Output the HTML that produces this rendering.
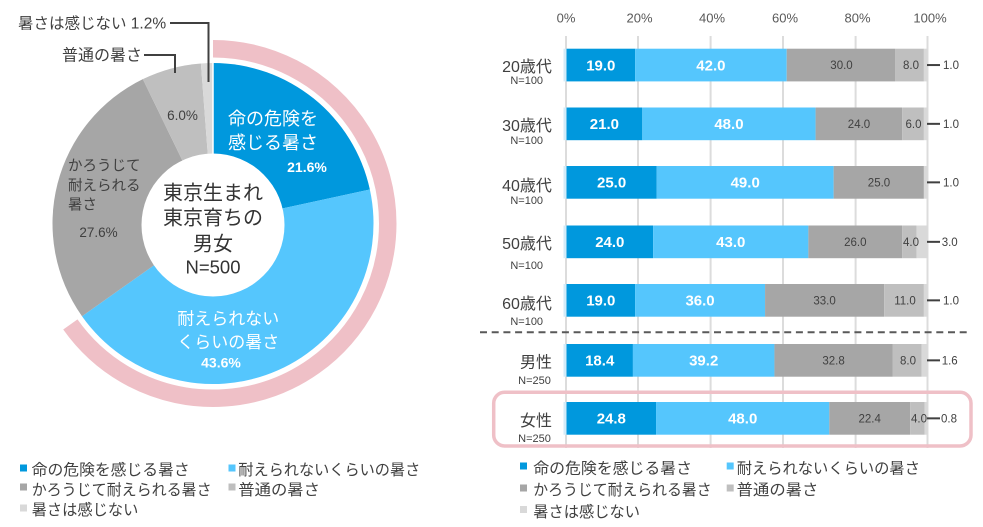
<!DOCTYPE html>
<html>
<head>
<meta charset="utf-8">
<style>
html,body{margin:0;padding:0;background:#fff;}
svg{display:block;}
text{font-family:"Liberation Sans","Noto Sans CJK JP",sans-serif;}
</style>
</head>
<body>
<svg width="983" height="527" viewBox="0 0 983 527" xmlns="http://www.w3.org/2000/svg">
<rect width="983" height="527" fill="#fff"/>

<!-- ===== DONUT ===== -->
<path d="M213,48.75 A174.75,174.75 0 1 1 70.36,324.46" fill="none" stroke="#efc0c7" stroke-width="17.5"/>
<path d="M213,223.5 L213,63 A160.5,160.5 0 0 1 369.85,189.47 Z" fill="#0098dd"/>
<path d="M213,223.5 L369.85,189.47 A160.5,160.5 0 0 1 82.0,316.23 Z" fill="#55c6fd"/>
<path d="M213,223.5 L82.0,316.23 A160.5,160.5 0 0 1 142.84,79.15 Z" fill="#a6a6a6"/>
<path d="M213,223.5 L142.84,79.15 A160.5,160.5 0 0 1 200.91,63.46 Z" fill="#bfbfbf"/>
<path d="M213,223.5 L200.91,63.46 A160.5,160.5 0 0 1 213,63 Z" fill="#d9d9d9"/>
<line x1="213" y1="62" x2="213" y2="160" stroke="#fff" stroke-width="1.5"/>
<circle cx="213" cy="225" r="71.5" fill="#fff"/>

<polyline points="170,23 208.5,23 208.5,82" fill="none" stroke="#404040" stroke-width="2"/>
<polyline points="144,55 175,55 175,73" fill="none" stroke="#404040" stroke-width="2"/>
<text x="18" y="28.5" font-size="15.5" fill="#404040">暑さは感じない 1.2%</text>
<text x="62" y="60.5" font-size="16" fill="#404040">普通の暑さ</text>

<text x="228" y="124.8" font-size="18" fill="#fff">命の危険を</text>
<text x="228" y="148.8" font-size="18" fill="#fff">感じる暑さ</text>
<text x="307" y="172" font-size="14" font-weight="bold" fill="#fff" text-anchor="middle">21.6%</text>
<text x="182.5" y="119.8" font-size="13.5" fill="#404040" text-anchor="middle">6.0%</text>
<text x="68" y="170.5" font-size="14.5" fill="#404040">かろうじて</text>
<text x="68" y="190.5" font-size="14.5" fill="#404040">耐えられる</text>
<text x="68" y="209.5" font-size="14.5" fill="#404040">暑さ</text>
<text x="98.5" y="236.8" font-size="13.5" fill="#404040" text-anchor="middle">27.6%</text>
<text x="213" y="199.3" font-size="20" fill="#333" text-anchor="middle">東京生まれ</text>
<text x="213" y="224.3" font-size="20" fill="#333" text-anchor="middle">東京育ちの</text>
<text x="213" y="250.6" font-size="20" fill="#333" text-anchor="middle">男女</text>
<text x="213" y="273.3" font-size="18.5" fill="#333" text-anchor="middle">N=500</text>
<text x="228.3" y="324.5" font-size="17" fill="#fff" text-anchor="middle">耐えられない</text>
<text x="228.3" y="348.2" font-size="17" fill="#fff" text-anchor="middle">くらいの暑さ</text>
<text x="221" y="367.7" font-size="14" font-weight="bold" fill="#fff" text-anchor="middle">43.6%</text>

<!-- left legend -->
<g font-size="15.3" fill="#404040">
<rect x="20" y="464.5" width="7" height="7" fill="#0098dd"/>
<text x="31.7" y="475" textLength="158" lengthAdjust="spacingAndGlyphs">命の危険を感じる暑さ</text>
<rect x="228.5" y="464.5" width="7" height="7" fill="#55c6fd"/>
<text x="238.3" y="475" textLength="182" lengthAdjust="spacingAndGlyphs">耐えられないくらいの暑さ</text>
<rect x="20" y="483.5" width="7" height="7" fill="#a6a6a6"/>
<text x="31.7" y="495" textLength="180" lengthAdjust="spacingAndGlyphs">かろうじて耐えられる暑さ</text>
<rect x="228.5" y="483.5" width="7" height="7" fill="#bfbfbf"/>
<text x="238.3" y="495" textLength="81.7" lengthAdjust="spacingAndGlyphs">普通の暑さ</text>
<rect x="20" y="504.5" width="7" height="7" fill="#d9d9d9"/>
<text x="31.7" y="515" textLength="106.7" lengthAdjust="spacingAndGlyphs">暑さは感じない</text>
</g>

<!-- ===== BAR CHART ===== -->
<g font-size="13" fill="#595959" text-anchor="middle">
<text x="566" y="22.7">0%</text>
<text x="639.5" y="22.7">20%</text>
<text x="712" y="22.7">40%</text>
<text x="785" y="22.7">60%</text>
<text x="857.5" y="22.7">80%</text>
<text x="930" y="22.7">100%</text>
</g>
<g stroke="#dcdcdc" stroke-width="2">
<line x1="566" y1="36" x2="566" y2="448"/>
<line x1="638" y1="36" x2="638" y2="448"/>
<line x1="710.6" y1="36" x2="710.6" y2="448"/>
<line x1="783" y1="36" x2="783" y2="448"/>
<line x1="855.6" y1="36" x2="855.6" y2="448"/>
<line x1="927.5" y1="36" x2="927.5" y2="448"/>
</g>

<line x1="480" y1="332.3" x2="969" y2="332.3" stroke="#595959" stroke-width="2" stroke-dasharray="7 4.7"/>
<rect x="493.7" y="392.3" width="477.3" height="53.7" rx="11" ry="11" fill="none" stroke="#efc0c7" stroke-width="3.5"/>

<g>
<rect x="563.5" y="48.7" width="3" height="32.7" fill="#d3ebf8"/>
<rect x="566.5" y="48.7" width="68.59" height="32.7" fill="#0098dd"/>
<rect x="635.09" y="48.7" width="151.62" height="32.7" fill="#55c6fd"/>
<rect x="786.71" y="48.7" width="108.3" height="32.7" fill="#a6a6a6"/>
<rect x="895.01" y="48.7" width="28.88" height="32.7" fill="#bfbfbf"/>
<rect x="923.89" y="48.7" width="3.61" height="32.7" fill="#d9d9d9"/>

<rect x="563.5" y="107.5" width="3" height="32.7" fill="#d3ebf8"/>
<rect x="566.5" y="107.5" width="75.81" height="32.7" fill="#0098dd"/>
<rect x="642.31" y="107.5" width="173.28" height="32.7" fill="#55c6fd"/>
<rect x="815.59" y="107.5" width="86.64" height="32.7" fill="#a6a6a6"/>
<rect x="902.23" y="107.5" width="21.66" height="32.7" fill="#bfbfbf"/>
<rect x="923.89" y="107.5" width="3.61" height="32.7" fill="#d9d9d9"/>

<rect x="563.5" y="166" width="3" height="32.7" fill="#d3ebf8"/>
<rect x="566.5" y="166" width="90.25" height="32.7" fill="#0098dd"/>
<rect x="656.75" y="166" width="176.89" height="32.7" fill="#55c6fd"/>
<rect x="833.64" y="166" width="90.25" height="32.7" fill="#a6a6a6"/>
<rect x="923.89" y="166" width="3.61" height="32.7" fill="#d9d9d9"/>

<rect x="563.5" y="225.5" width="3" height="32.7" fill="#d3ebf8"/>
<rect x="566.5" y="225.5" width="86.64" height="32.7" fill="#0098dd"/>
<rect x="653.14" y="225.5" width="155.23" height="32.7" fill="#55c6fd"/>
<rect x="808.37" y="225.5" width="93.86" height="32.7" fill="#a6a6a6"/>
<rect x="902.23" y="225.5" width="14.44" height="32.7" fill="#bfbfbf"/>
<rect x="916.67" y="225.5" width="10.83" height="32.7" fill="#d9d9d9"/>

<rect x="563.5" y="284" width="3" height="32.7" fill="#d3ebf8"/>
<rect x="566.5" y="284" width="68.59" height="32.7" fill="#0098dd"/>
<rect x="635.09" y="284" width="129.96" height="32.7" fill="#55c6fd"/>
<rect x="765.05" y="284" width="119.13" height="32.7" fill="#a6a6a6"/>
<rect x="884.18" y="284" width="39.71" height="32.7" fill="#bfbfbf"/>
<rect x="923.89" y="284" width="3.61" height="32.7" fill="#d9d9d9"/>

<rect x="563.5" y="344" width="3" height="32.7" fill="#d3ebf8"/>
<rect x="566.5" y="344" width="66.42" height="32.7" fill="#0098dd"/>
<rect x="632.92" y="344" width="141.52" height="32.7" fill="#55c6fd"/>
<rect x="774.44" y="344" width="118.4" height="32.7" fill="#a6a6a6"/>
<rect x="892.84" y="344" width="28.88" height="32.7" fill="#bfbfbf"/>
<rect x="921.72" y="344" width="5.78" height="32.7" fill="#d9d9d9"/>

<rect x="563.5" y="402" width="3" height="32.7" fill="#d3ebf8"/>
<rect x="566.5" y="402" width="89.53" height="32.7" fill="#0098dd"/>
<rect x="656.03" y="402" width="173.28" height="32.7" fill="#55c6fd"/>
<rect x="829.31" y="402" width="80.86" height="32.7" fill="#a6a6a6"/>
<rect x="910.17" y="402" width="14.44" height="32.7" fill="#bfbfbf"/>
<rect x="924.61" y="402" width="2.89" height="32.7" fill="#d9d9d9"/>
</g>

<g font-size="15" font-weight="bold" fill="#fff" text-anchor="middle">
<text x="600.8" y="70.4">19.0</text><text x="710.9" y="70.4">42.0</text>
<text x="604.4" y="129.2">21.0</text><text x="728.95" y="129.2">48.0</text>
<text x="611.6" y="187.7">25.0</text><text x="745.2" y="187.7">49.0</text>
<text x="609.8" y="247.2">24.0</text><text x="730.76" y="247.2">43.0</text>
<text x="600.8" y="305.7">19.0</text><text x="700.07" y="305.7">36.0</text>
<text x="599.7" y="365.7">18.4</text><text x="703.7" y="365.7">39.2</text>
<text x="611.3" y="423.7">24.8</text><text x="742.7" y="423.7">48.0</text>
</g>
<g font-size="11.5" fill="#404040" text-anchor="middle">
<text x="841.5" y="69.1">30.0</text><text x="911" y="69.1">8.0</text>
<text x="859" y="127.9">24.0</text><text x="913.5" y="127.9">6.0</text>
<text x="879" y="186.4">25.0</text>
<text x="855.3" y="245.9">26.0</text><text x="911" y="245.9">4.0</text>
<text x="824.6" y="304.4">33.0</text><text x="905" y="304.4">11.0</text>
<text x="833.6" y="364.4">32.8</text><text x="908" y="364.4">8.0</text>
<text x="869.7" y="422.4">22.4</text><text x="919" y="422.4">4.0</text>
</g>
<g stroke="#404040" stroke-width="2">
<line x1="927" y1="65.05" x2="940" y2="65.05"/>
<line x1="927" y1="123.85" x2="940" y2="123.85"/>
<line x1="927" y1="182.35" x2="940" y2="182.35"/>
<line x1="927" y1="241.85" x2="940" y2="241.85"/>
<line x1="927" y1="300.35" x2="940" y2="300.35"/>
<line x1="927" y1="360.35" x2="940" y2="360.35"/>
<line x1="927" y1="418.35" x2="940" y2="418.35"/>
</g>
<g font-size="11.5" fill="#404040">
<text x="943" y="69.1">1.0</text>
<text x="943" y="127.9">1.0</text>
<text x="943" y="186.4">1.0</text>
<text x="941.7" y="245.9">3.0</text>
<text x="943" y="304.4">1.0</text>
<text x="941.7" y="364.4">1.6</text>
<text x="941" y="422.4">0.8</text>
</g>

<g fill="#404040" text-anchor="middle">
<text x="527" y="72" font-size="16">20歳代</text>
<text x="526.7" y="84" font-size="11">N=100</text>
<text x="527" y="131" font-size="16">30歳代</text>
<text x="526.7" y="144" font-size="11">N=100</text>
<text x="527" y="191" font-size="16">40歳代</text>
<text x="526.7" y="204" font-size="11">N=100</text>
<text x="527" y="249" font-size="16">50歳代</text>
<text x="526.7" y="269" font-size="11">N=100</text>
<text x="527" y="309" font-size="16">60歳代</text>
<text x="526.7" y="325" font-size="11">N=100</text>
<text x="536" y="367.7" font-size="16">男性</text>
<text x="534.5" y="384" font-size="11">N=250</text>
<text x="536" y="426" font-size="16">女性</text>
<text x="534.5" y="442" font-size="11">N=250</text>
</g>

<!-- right legend -->
<g font-size="15.3" fill="#404040">
<rect x="520" y="462.5" width="7" height="7" fill="#0098dd"/>
<text x="533.3" y="473.5" textLength="158.7" lengthAdjust="spacingAndGlyphs">命の危険を感じる暑さ</text>
<rect x="726.7" y="462.5" width="7" height="7" fill="#55c6fd"/>
<text x="736.7" y="473.5" textLength="183.3" lengthAdjust="spacingAndGlyphs">耐えられないくらいの暑さ</text>
<rect x="520" y="484.5" width="7" height="7" fill="#a6a6a6"/>
<text x="533.3" y="495" textLength="178.3" lengthAdjust="spacingAndGlyphs">かろうじて耐えられる暑さ</text>
<rect x="726.7" y="484.5" width="7" height="7" fill="#bfbfbf"/>
<text x="736.7" y="495" textLength="81.7" lengthAdjust="spacingAndGlyphs">普通の暑さ</text>
<rect x="520" y="506" width="7" height="7" fill="#d9d9d9"/>
<text x="533.3" y="517" textLength="106.7" lengthAdjust="spacingAndGlyphs">暑さは感じない</text>
</g>
</svg>
</body>
</html>
